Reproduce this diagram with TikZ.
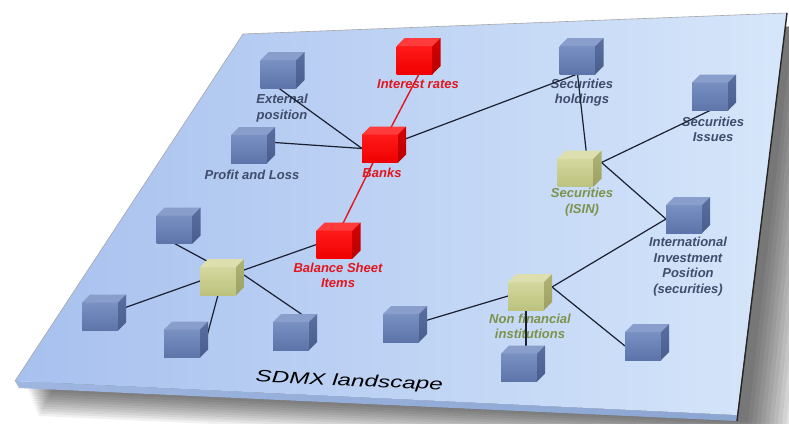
\documentclass[tikz,border=0pt]{standalone}
\usepackage{fontspec}
\setmainfont{Liberation Sans}
\usetikzlibrary{calc}

% slab
\definecolor{slabL}{HTML}{A7C0EE}
\definecolor{slabR}{HTML}{D6E6FA}
\definecolor{slabEdge}{HTML}{93AEDD}
% cube palettes
\definecolor{blueFrontT}{HTML}{7890C2}
\definecolor{blueFrontB}{HTML}{5C74A9}
\definecolor{blueTop}{HTML}{8A9ECB}
\definecolor{blueSide}{HTML}{5A6FA0}
\definecolor{blueSideB}{HTML}{4A5E8E}
\definecolor{oliveFrontT}{HTML}{D4D89E}
\definecolor{oliveFrontB}{HTML}{BCC27E}
\definecolor{oliveTop}{HTML}{DDE0AE}
\definecolor{oliveSide}{HTML}{AFB474}
\definecolor{oliveSideB}{HTML}{9CA163}
\definecolor{redFrontT}{HTML}{FF1A1A}
\definecolor{redFrontB}{HTML}{F00000}
\definecolor{redTop}{HTML}{FF3B3B}
\definecolor{redSide}{HTML}{D80000}
\definecolor{redSideB}{HTML}{B80000}
% text and links
\definecolor{lblBlue}{HTML}{404C6C}
\definecolor{lblRed}{HTML}{E2161E}
\definecolor{lblOlive}{HTML}{7D924A}
\definecolor{linkDark}{HTML}{1A2030}

\tikzset{
  cubeface/.style={rectangle, minimum width=36pt, minimum height=28pt,
    inner sep=0pt, outer sep=0pt, draw=none},
  lbl/.style={font=\fontsize{13}{15.5}\selectfont\bfseries\itshape,
    align=center, inner sep=0pt},
  lblblue/.style={lbl, text=lblBlue},
  lblred/.style={lbl, text=lblRed},
  lblolive/.style={lbl, text=lblOlive},
  link/.style={draw=linkDark, line width=1.2pt},
  redlink/.style={draw=lblRed, line width=1.4pt},
}

% a cube: front face is the named node, top and side faces are added behind-right
\newcommand\drawcube[3]{%
  \node[cubeface, top color=#3FrontT, bottom color=#3FrontB] (#1) at (#2) {};
  \fill[#3Top] (#1.north west) -- ++(8,-8) -- ++(36,0) -- (#1.north east) -- cycle;
  \shade[top color=#3Side, bottom color=#3SideB]
    (#1.north east) -- ++(8,-8) -- ++(0,28) -- (#1.south east) -- cycle;
}

\begin{document}
\begin{tikzpicture}[x=1pt,y=-1pt]
\useasboundingbox (0,0) rectangle (789,423);
\clip (0,0) rectangle (789,423);
\fill[white] (0,0) rectangle (789,423);

% soft drop shadow of the slab
\foreach \k in {1,...,12}{
  \fill[black, opacity=0.06]
    (243,40) -- (789+4*\k,26) -- (744+4*\k,420+2.5*\k) -- (26+\k,386+2.5*\k) -- cycle;
}

% slab: front strip, top surface, right edge
\coordinate (pA) at (243,34);
\coordinate (pB) at (787,13);
\coordinate (pC) at (737,415);
\coordinate (pD) at (15,381);
\shade[left color=slabEdge!90!white, right color=slabEdge!95!black]
  (pD) -- (pC) -- (737,421) -- (19,388) -- cycle;
\shade[left color=slabL, right color=slabR] (pA) -- (pB) -- (pC) -- (pD) -- cycle;
\draw[gray!70, line width=0.6pt] (pD) -- (pA) -- (pB);
\draw[black!85, line width=1.4pt] (pB) -- (737,421);

% labels
\node[lblred]   (irl)   at (418,84)    {Interest rates};
\node[lblblue]  (extl)  at (282,108)   {External\\position};
\node[lblblue]  (pll)   at (252,175)   {Profit and Loss};
\node[lblred]   (banksl) at (382,173)  {Banks};
\node[lblblue]  (shl)   at (582,92.5)  {Securities\\holdings};
\node[lblblue]  (sil)   at (713,129.5) {Securities\\Issues};
\node[lblolive] (isinl) at (582,202)   {Securities\\(ISIN)};
\node[lblblue]  (iipl)  at (688,266.5) {International\\Investment\\Position\\(securities)};
\node[lblolive] (nfil2) at (530,326.5) {Non financial\\institutions};
\node[lblred]   (bsil)  at (338,275.5) {Balance Sheet\\Items};
\node[font=\fontsize{16.5}{18}\selectfont\itshape, text=black, inner sep=0pt,
      anchor=base, rotate=-2.5, xscale=1.47] (title) at (349,386) {SDMX landscape};

% cube positions (front faces)
\coordinate (cIR) at (414.5,60);
\coordinate (cEXT) at (278.5,74);
\coordinate (cPL) at (249,149);
\coordinate (cBANKS) at (380,148.5);
\coordinate (cSH) at (577.5,60);
\coordinate (cSI) at (710,96.5);
\coordinate (cISIN) at (575.5,172.5);
\coordinate (cIIP) at (684,219);
\coordinate (cNFI) at (526,296);
\coordinate (cNFIB) at (519,367.5);
\coordinate (cNFIR) at (643,346);
\coordinate (cNFIL) at (401,328);
\coordinate (cHUBTL) at (174.5,229.5);
\coordinate (cHUB) at (218,281);
\coordinate (cHUBL) at (100,316.5);
\coordinate (cHUBB) at (182,343.5);
\coordinate (cHUBR) at (291,336);
\coordinate (cBSI) at (334.5,244.5);

% invisible placeholders so connectors can refer to the cubes by name
\foreach \n/\c in {ir/cIR,ext/cEXT,pl/cPL,banks/cBANKS,sh/cSH,si/cSI,isin/cISIN,
  iip/cIIP,nfi/cNFI,nfib/cNFIB,nfir/cNFIR,nfil/cNFIL,hubtl/cHUBTL,hub/cHUB,
  hubl/cHUBL,hubb/cHUBB,hubr/cHUBR,bsi/cBSI}
  {\node[cubeface] (\n) at (\c) {};}

% connectors
\draw[link] (ext.south) -- (banks.west);
\draw[link] ($(pl.east)+(0,-7)$) -- (banks.west);
\draw[link] (banks.center) -- (sh.south);
\draw[link] (sh.south) -- ($(isin.north)+(11.5,0)$);
\draw[link] ($(isin.east)+(8,-10)$) -- (si.south);
\draw[link] ($(isin.east)+(8,-10)$) -- (iip.west);
\draw[link] ($(nfi.east)+(8,-9)$) -- (iip.west);
\draw[link] ($(nfi.east)+(8,-9)$) -- (nfir.west);
\draw[link] (nfil.center) -- (nfi.west);
\draw[link] (nfi.south) -- ($(nfib.north)+(7,0)$);
\draw[link] (hubtl.south) -- (hub.north);
\draw[link] (hubl.center) -- (hub.west);
\draw[link] (hub.south) -- ($(hubb.east)+(5,0)$);
\draw[link] ($(hub.east)+(8,-6)$) -- ($(hubr.north east)+(4,0)$);
\draw[link] ($(hub.east)+(8,-11)$) -- (bsi.west);
\draw[redlink] ($(ir.south)+(4.5,0)$) -- (banks.center) -- ($(bsi.north)+(5,0)$);

% cubes
\drawcube{ir}{cIR}{red}
\drawcube{ext}{cEXT}{blue}
\drawcube{pl}{cPL}{blue}
\drawcube{banks}{cBANKS}{red}
\drawcube{sh}{cSH}{blue}
\drawcube{si}{cSI}{blue}
\drawcube{isin}{cISIN}{olive}
\drawcube{iip}{cIIP}{blue}
\drawcube{nfi}{cNFI}{olive}
\drawcube{nfib}{cNFIB}{blue}
\drawcube{nfir}{cNFIR}{blue}
\drawcube{nfil}{cNFIL}{blue}
\drawcube{hubtl}{cHUBTL}{blue}
\drawcube{hub}{cHUB}{olive}
\drawcube{hubl}{cHUBL}{blue}
\drawcube{hubb}{cHUBB}{blue}
\drawcube{hubr}{cHUBR}{blue}
\drawcube{bsi}{cBSI}{red}
\end{tikzpicture}
\end{document}
